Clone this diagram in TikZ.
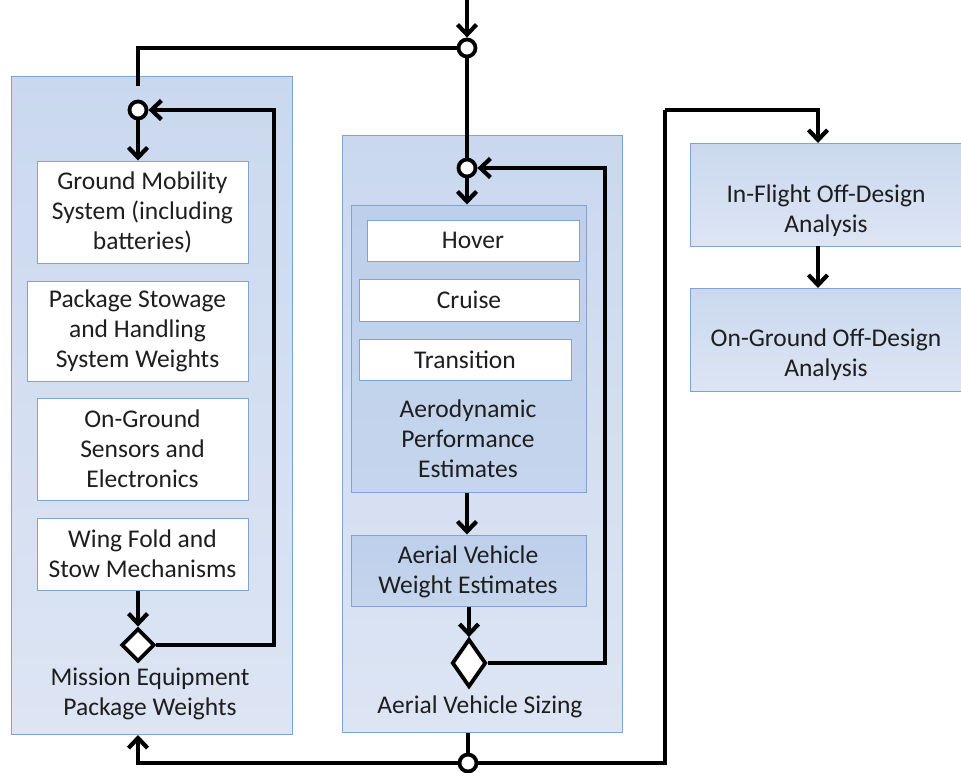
\documentclass[tikz,border=0pt]{standalone}
\usepackage{fontspec}
\setmainfont{Carlito}
\usetikzlibrary{arrows.meta,shapes.geometric}
\definecolor{bord}{HTML}{7FA3D2}
\definecolor{ptop}{HTML}{CAD8EF}
\definecolor{pbot}{HTML}{DDE5F4}
\definecolor{itop}{HTML}{BDCFEB}
\definecolor{ibot}{HTML}{C5D5ED}
\definecolor{txt}{HTML}{1E1E1E}
\tikzset{
  panel/.style={draw=bord, line width=1pt, top color=ptop, bottom color=pbot, rectangle, inner sep=0pt},
  innerpanel/.style={draw=bord, line width=1pt, top color=itop, bottom color=ibot, rectangle, inner sep=0pt},
  wbox/.style={draw=bord, line width=1pt, fill=white, rectangle, inner sep=0pt, align=center, text=txt},
  lbl/.style={align=center, text=txt, inner sep=0pt},
  junc/.style={circle, draw=black, line width=3.8pt, fill=white, minimum size=17pt, inner sep=0pt},
  dec/.style={diamond, draw=black, line width=3.8pt, fill=white, inner sep=0pt, aspect=1},
  wire/.style={line width=4.2pt, line join=miter},
  arr/.style={wire, -{Straight Barb[length=10pt,width=19pt,line width=4.2pt]}},
}
\begin{document}
\begin{tikzpicture}[x=1pt,y=-1pt, font=\fontsize{25.5}{30}\selectfont]
\useasboundingbox (0,0) rectangle (961,772);
% panels
\node[panel, minimum width=281pt, minimum height=658pt] (lp) at (151.5,405) {};
\node[panel, minimum width=280pt, minimum height=597pt] (mp) at (482,433.5) {};
\node[innerpanel, minimum width=235pt, minimum height=287pt] (ip) at (468.5,348.5) {};
\node[innerpanel, minimum width=235pt, minimum height=71pt] (avw) at (468.5,570.5) {};
\node[lbl] (avwt) at (468,572) {Aerial Vehicle\\Weight Estimates};
\node[panel, minimum width=290pt, minimum height=103pt] (ifb) at (835,194.5) {};
\node[panel, minimum width=290pt, minimum height=103pt] (ogb) at (835,339.5) {};
\node[lbl] (ift) at (826,211) {In-Flight Off-Design\\Analysis};
\node[lbl] (ogt) at (826,355) {On-Ground Off-Design\\Analysis};
% left boxes
\node[wbox, minimum width=211pt, minimum height=102pt] (gm) at (142.5,212) {Ground Mobility\\System (including\\batteries)};
\node[wbox, minimum width=221pt, minimum height=100pt] (ps) at (137.5,331) {Package Stowage\\and Handling\\System Weights};
\node[wbox, minimum width=211pt, minimum height=102pt] (og) at (142.5,449) {On-Ground\\Sensors and\\Electronics};
\node[wbox, minimum width=211pt, minimum height=72pt] (wf) at (142.5,554) {Wing Fold and\\Stow Mechanisms};
\node[lbl] (lpt) at (150,694) {Mission Equipment\\Package Weights};
% mid boxes
\node[wbox, minimum width=212pt, minimum height=41pt] (hv) at (473,240.5) {Hover};
\node[wbox, minimum width=220pt, minimum height=42pt] (cr) at (469,300) {Cruise};
\node[wbox, minimum width=212pt, minimum height=41pt] (tr) at (465,360) {Transition};
\node[lbl] (ipt) at (468,439) {Aerodynamic\\Performance\\Estimates};
\node[lbl] (mpt) at (480,707) {Aerial Vehicle Sizing};
% junctions
\node[junc] (c1) at (467,48) {};
\node[junc] (c2) at (467,168) {};
\node[junc] (cl) at (138,110) {};
\node[junc] (c3) at (468,763) {};
\node[dec, minimum width=33pt, minimum height=33pt] (dl) at (138,645) {};
\node[dec, minimum width=34pt, minimum height=48pt] (dm) at (469,663) {};
% coordinates
\coordinate (top) at (467,0);
\coordinate (lend) at (138,86);
\coordinate (lc) at (274,110);
\coordinate (mc) at (605,168);
\coordinate (lbot) at (138,735);
\coordinate (rb) at (665,763);
\coordinate (rt) at (665,110);
\coordinate (ifin) at (818,143);
\coordinate (ifout) at (818,246);
\coordinate (ogin) at (818,288);
% wires
\draw[arr] (top) -- (c1.north);
\draw[wire] (c1) -| (lend);
\draw[wire] (c1) -- (c2);
\draw[arr] (cl) -- (gm.north -| cl);
\draw[arr] (wf.south -| dl) -- (dl.north);
\draw[arr] (dl.east) -| (lc) -- (cl);
\draw[arr] (c2) -- (ip.north -| c2);
\draw[arr] (ip.south -| c2) -- (avw.north -| c2);
\draw[arr] (avw.south -| dm) -- (dm.north);
\draw[arr] (dm.east) -| (mc) -- (c2);
\draw[wire] (mp.south -| c3) -- (c3);
\draw[arr] (c3) -| (lbot);
\draw[wire] (c3) -- (rb) -- (rt);
\draw[arr] (rt) -| (ifin);
\draw[arr] (ifout) -- (ogin);
\end{tikzpicture}
\end{document}
